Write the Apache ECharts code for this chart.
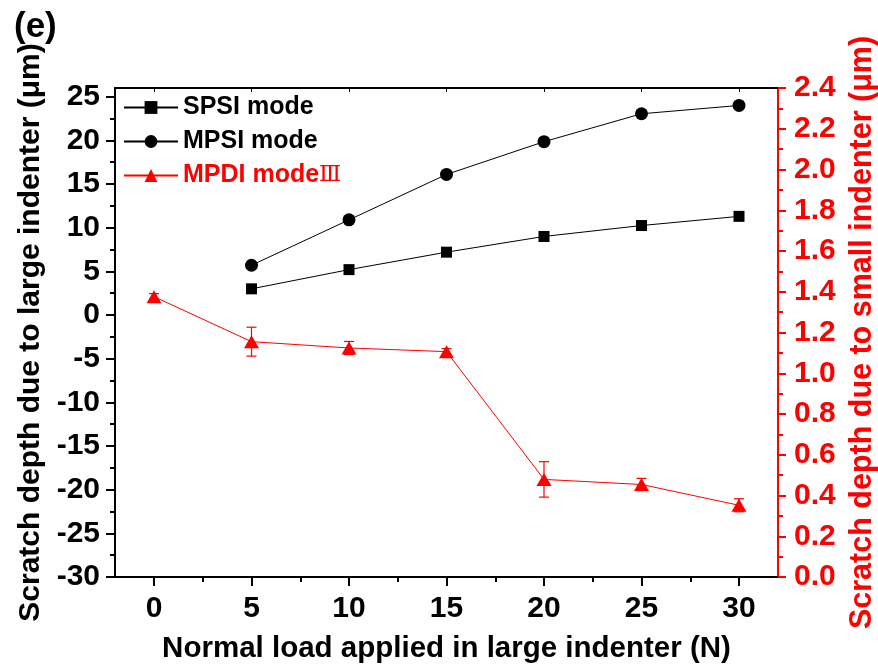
<!DOCTYPE html>
<html>
<head>
<meta charset="utf-8">
<script src="https://cdn.jsdelivr.net/npm/echarts@6/dist/echarts.min.js"></script>
<style>
  html, body { margin: 0; padding: 0; background: #ffffff; }
  #chart { width: 878px; height: 668px; }
</style>
</head>
<body>
<div id="chart"></div>
<script>
// ---- Data ----
const xLoads = [0, 5, 10, 15, 20, 25, 30];
const spsiDepth = [null, 3.0, 5.2, 7.2, 9.0, 10.25, 11.3];      // left axis (µm)
const mpsiDepth = [null, 5.7, 10.9, 16.1, 19.85, 23.05, 24.0];  // left axis (µm)
const mpdiDepth = [1.376, 1.155, 1.124, 1.106, 0.479, 0.454, 0.352]; // right axis (µm)
const mpdiError = [0.015, 0.071, 0.032, 0.015, 0.087, 0.03, 0.032];

const xMajorTicks = [0, 5, 10, 15, 20, 25, 30];
const xMinorTicks = [2.5, 7.5, 12.5, 17.5, 22.5, 27.5];
const yLeftMajorTicks = [-30, -25, -20, -15, -10, -5, 0, 5, 10, 15, 20, 25];
const yLeftMinorTicks = [-27.5, -22.5, -17.5, -12.5, -7.5, -2.5, 2.5, 7.5, 12.5, 17.5, 22.5];
const yRightMajorTicks = [0, 0.2, 0.4, 0.6, 0.8, 1.0, 1.2, 1.4, 1.6, 1.8, 2.0, 2.2, 2.4];
const yRightMinorTicks = [0.1, 0.3, 0.5, 0.7, 0.9, 1.1, 1.3, 1.5, 1.7, 1.9, 2.1, 2.3];

const seriesNames = ['SPSI mode', 'MPSI mode', 'MPDI mode'];
const xTitle = 'Normal load applied in large indenter (N)';
const yLeftTitle = 'Scratch depth due to large indenter (\u03bcm)';
const yRightTitle = 'Scratch depth due to small indenter (\u03bcm)';

// ---- Build chart ----
const FONT = "'Liberation Sans', Arial, sans-serif";
const RED = '#ff0000';
const pairs = (ys) => xLoads.map((x, i) => [x, ys[i]]).filter(p => p[1] !== null);
const errData = xLoads.map((x, i) => [x, mpdiDepth[i], mpdiError[i]]);

const X_MIN = -2, X_MAX = 32;
const YL_MIN = -30, YL_MAX = 26;
const YR_MIN = 0, YR_MAX = 2.4;

const chart = echarts.init(document.getElementById('chart'), null, { renderer: 'canvas' });

const baseX = {
  type: 'value', min: X_MIN, max: X_MAX, gridIndex: 0,
  splitLine: { show: false }
};
const baseYL = { type: 'value', min: YL_MIN, max: YL_MAX, position: 'left', splitLine: { show: false } };
const baseYR = { type: 'value', min: YR_MIN, max: YR_MAX, position: 'right', splitLine: { show: false } };

chart.setOption({
  animation: false,
  backgroundColor: '#ffffff',
  title: {
    text: '(e)', left: 9, top: 5,
    textStyle: { fontFamily: FONT, fontWeight: 'bold', fontSize: 35, color: '#000' }
  },
  grid: { left: 115, right: 100, top: 88, bottom: 91, containLabel: false, outerBoundsMode: 'none' },
  legend: {
    orient: 'vertical', left: 118, top: 90, itemGap: 9,
    itemWidth: 54, itemHeight: 16,
    textStyle: {
      fontFamily: FONT, fontWeight: 'bold', fontSize: 25, color: '#000',
      rich: {
        r: { fontFamily: FONT, fontWeight: 'bold', fontSize: 25, color: RED },
        n: { fontFamily: "'DejaVu Serif', 'Liberation Serif', serif", fontWeight: 'normal', fontSize: 23, color: RED }
      }
    },
    formatter: (name) => name === 'MPDI mode' ? '{r|MPDI mode}{n|\u2162}' : name,
    data: [
      { name: seriesNames[0] },
      { name: seriesNames[1] },
      { name: seriesNames[2], textStyle: { color: RED } }
    ]
  },
  xAxis: [
    Object.assign({}, baseX, {
      position: 'bottom',
      name: xTitle, nameLocation: 'middle', nameGap: 57,
      nameTextStyle: { fontFamily: FONT, fontWeight: 'bold', fontSize: 29.5, color: '#000' },
      axisLine: { show: true, onZero: false, lineStyle: { color: '#000', width: 2 } },
      axisTick: { show: true, inside: false, length: 9, customValues: xMajorTicks, lineStyle: { color: '#000', width: 2 } },
      axisLabel: { show: true, customValues: xMajorTicks, margin: 17,
        fontFamily: FONT, fontWeight: 'bold', fontSize: 30, color: '#000' }
    }),
    Object.assign({}, baseX, {
      position: 'bottom',
      axisLine: { show: false, onZero: false },
      axisTick: { show: true, inside: false, length: 5, customValues: xMinorTicks, lineStyle: { color: '#000', width: 2 } },
      axisLabel: { show: false }
    }),
    Object.assign({}, baseX, {
      position: 'top',
      axisLine: { show: true, onZero: false, lineStyle: { color: '#000', width: 2 } },
      axisTick: { show: true, inside: true, length: 4, customValues: xMajorTicks, lineStyle: { color: '#000', width: 1 } },
      axisLabel: { show: false }
    })
  ],
  yAxis: [
    Object.assign({}, baseYL, {
      name: yLeftTitle, nameLocation: 'middle', nameGap: 66, nameRotate: 90,
      nameTextStyle: { fontFamily: FONT, fontWeight: 'bold', fontSize: 30, color: '#000' },
      axisLine: { show: true, onZero: false, lineStyle: { color: '#000', width: 2 } },
      axisTick: { show: true, inside: false, length: 9, customValues: yLeftMajorTicks, lineStyle: { color: '#000', width: 2 } },
      axisLabel: { show: true, customValues: yLeftMajorTicks, margin: 15,
        fontFamily: FONT, fontWeight: 'bold', fontSize: 30, color: '#000' }
    }),
    Object.assign({}, baseYR, {
      name: yRightTitle, nameLocation: 'middle', nameGap: 68, nameRotate: 90,
      nameTextStyle: { fontFamily: FONT, fontWeight: 'bold', fontSize: 30.5, color: RED },
      axisLine: { show: true, onZero: false, lineStyle: { color: RED, width: 2 } },
      axisTick: { show: true, inside: false, length: 8, customValues: yRightMajorTicks, lineStyle: { color: RED, width: 2 } },
      axisLabel: { show: true, customValues: yRightMajorTicks, margin: 16,
        formatter: (v) => Number(v).toFixed(1),
        fontFamily: FONT, fontWeight: 'bold', fontSize: 30, color: RED }
    }),
    Object.assign({}, baseYL, {
      axisLine: { show: false, onZero: false },
      axisTick: { show: true, inside: false, length: 5, customValues: yLeftMinorTicks, lineStyle: { color: '#000', width: 2 } },
      axisLabel: { show: false }
    }),
    Object.assign({}, baseYR, {
      axisLine: { show: false, onZero: false },
      axisTick: { show: true, inside: false, length: 5, customValues: yRightMinorTicks, lineStyle: { color: RED, width: 2 } },
      axisLabel: { show: false }
    })
  ],
  series: [
    {
      name: 'MPDI error', type: 'custom', xAxisIndex: 0, yAxisIndex: 1, z: 1,
      data: errData, encode: { x: 0, y: 1 },
      renderItem: function (params, api) {
        const x = api.value(0), v = api.value(1), e = api.value(2);
        const top = api.coord([x, v + e]);
        const bot = api.coord([x, v - e]);
        const hw = 5;
        const st = { stroke: RED, lineWidth: 1.2 };
        return {
          type: 'group', children: [
            { type: 'line', shape: { x1: top[0], y1: top[1], x2: bot[0], y2: bot[1] }, style: st },
            { type: 'line', shape: { x1: top[0] - hw, y1: top[1], x2: top[0] + hw, y2: top[1] }, style: st },
            { type: 'line', shape: { x1: bot[0] - hw, y1: bot[1], x2: bot[0] + hw, y2: bot[1] }, style: st }
          ]
        };
      }
    },
    {
      name: seriesNames[0], type: 'line', xAxisIndex: 0, yAxisIndex: 0, z: 3,
      data: pairs(spsiDepth),
      symbol: 'rect', symbolSize: 11,
      lineStyle: { color: '#000', width: 1 },
      itemStyle: { color: '#000' }
    },
    {
      name: seriesNames[1], type: 'line', xAxisIndex: 0, yAxisIndex: 0, z: 3,
      data: pairs(mpsiDepth),
      symbol: 'circle', symbolSize: 13,
      lineStyle: { color: '#000', width: 1 },
      itemStyle: { color: '#000' }
    },
    {
      name: seriesNames[2], type: 'line', xAxisIndex: 0, yAxisIndex: 1, z: 3,
      data: pairs(mpdiDepth),
      symbol: 'triangle', symbolSize: [15, 13],
      lineStyle: { color: RED, width: 1 },
      itemStyle: { color: RED }
    }
  ]
});
</script>
</body>
</html>
